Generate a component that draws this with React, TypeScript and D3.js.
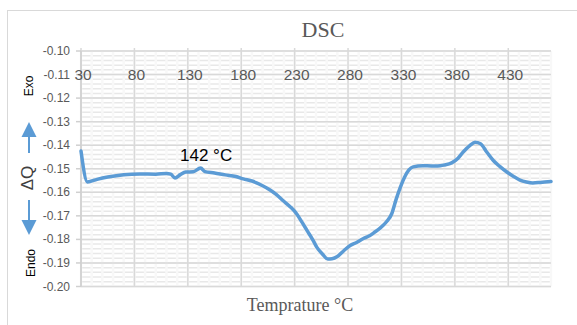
import * as d3 from "d3";

// temperature (°C) and heat flow readings
const temps = [
  30, 36, 45, 55, 70, 85, 100, 110, 114, 118, 123, 128, 135, 142, 146, 155,
  165, 175, 182, 190, 200, 207, 213, 219, 226, 232, 237, 242, 247, 251, 256,
  261, 265, 270, 276, 282, 288, 294, 300, 304, 310, 316, 321, 325, 329, 333,
  337, 341, 350, 358, 364, 370, 377, 383, 388, 394, 399, 404, 410, 416, 422,
  429, 435, 441, 447, 453, 460, 470,
];
const heatFlow = [
  -0.1425, -0.1556, -0.1545, -0.1535, -0.1525, -0.1522, -0.1523, -0.152,
  -0.1523, -0.1539, -0.1525, -0.1514, -0.1513, -0.1497, -0.1512, -0.1518,
  -0.1526, -0.1533, -0.1543, -0.1552, -0.1572, -0.159, -0.161, -0.1635,
  -0.1662, -0.1692, -0.1728, -0.1765, -0.1802, -0.1835, -0.1862, -0.1883,
  -0.1882, -0.1873, -0.1848, -0.1826, -0.1813, -0.1797, -0.1785, -0.1772,
  -0.1752, -0.1725, -0.169, -0.163, -0.1578, -0.1535, -0.1505, -0.1492,
  -0.1487, -0.1488, -0.1488, -0.1484, -0.1475, -0.1455, -0.1428, -0.1402,
  -0.1388, -0.1394, -0.143, -0.1465, -0.149, -0.1515, -0.1533, -0.1548,
  -0.1556, -0.156, -0.1558, -0.1554,
];
const xTicks = [30, 80, 130, 180, 230, 280, 330, 380, 430];
const yTicks = [-0.1, -0.11, -0.12, -0.13, -0.14, -0.15, -0.16, -0.17, -0.18, -0.19, -0.2];
const peakLabel = "142 °C";

const W = 577;
const H = 325;
const sans = "'Liberation Sans', Arial, sans-serif";
const serif = "'Liberation Serif', 'Times New Roman', serif";
const blue = "#5b9bd5";

export default function App() {
  const x = d3.scaleLinear().domain([30, 470]).range([81, 551]);
  const y = d3.scaleLinear().domain([-0.1, -0.2]).range([51, 286.5]);

  const pts = temps.map((t, i) => [t, heatFlow[i]] as [number, number]);
  const line = d3
    .line<[number, number]>()
    .x((d) => x(d[0]))
    .y((d) => y(d[1]))
    .curve(d3.curveMonotoneX);

  const minorX = d3.range(30, 471, 10);
  const minorY = d3.range(0, 51).map((i) => -0.1 - i * 0.002);

  return (
    <div style={{ position: "absolute", left: 0, top: 0 }}>
      <svg width={W} height={H} style={{ display: "block" }}>
        <rect x={0} y={0} width={W} height={H} fill="white" />
        {/* chart frame */}
        <rect x={7.5} y={10.5} width={W} height={H} fill="none" stroke="#d9d9d9" />

        <text x={323} y={37} textAnchor="middle" fontFamily={serif} fontSize={22} fill="#595959">
          DSC
        </text>

        {/* minor grid */}
        {minorY.map((v, i) => (
          <line key={"my" + i} x1={x(30)} x2={x(470)} y1={y(v)} y2={y(v)} stroke="#e8e8e8" strokeWidth={1.5} />
        ))}
        {minorX.map((t) => (
          <line key={"mx" + t} x1={x(t)} x2={x(t)} y1={y(-0.1)} y2={y(-0.2)} stroke="#f8f8f8" strokeWidth={2.5} />
        ))}

        {/* major grid */}
        {yTicks.map((v) => (
          <line key={"gy" + v} x1={x(30)} x2={x(470)} y1={y(v)} y2={y(v)} stroke="#d9d9d9" strokeWidth={1.5} />
        ))}
        {xTicks.map((t) => (
          <line key={"gx" + t} x1={x(t)} x2={x(t)} y1={y(-0.1) - 3} y2={y(-0.2)} stroke="#d9d9d9" strokeWidth={1.5} />
        ))}

        {/* y axis */}
        <line x1={x(30)} x2={x(30)} y1={y(-0.1)} y2={y(-0.2)} stroke="#d0d0d0" strokeWidth={1.5} />
        {yTicks.map((v) => (
          <g key={"yt" + v}>
            <line x1={x(30) - 5} x2={x(30)} y1={y(v)} y2={y(v)} stroke="#d0d0d0" strokeWidth={1.5} />
            <text x={70} y={y(v)} textAnchor="end" dominantBaseline="central" fontFamily={sans} fontSize={12} fill="#595959">
              {v.toFixed(2)}
            </text>
          </g>
        ))}

        {/* x tick labels, drawn below the top axis */}
        {xTicks.map((t) => (
          <text key={"xt" + t} x={x(t) + 2} y={74} textAnchor="middle" dominantBaseline="central" fontFamily={sans} fontSize={15.5} fill="#595959">
            {t}
          </text>
        ))}

        <path d={line(pts) ?? ""} fill="none" stroke={blue} strokeWidth={3.5} strokeLinejoin="round" strokeLinecap="round" />

        <text x={180} y={161} fontFamily={sans} fontSize={17} fill="#000">
          {peakLabel}
        </text>

        {/* y axis title with exo / endo arrows */}
        <text transform="translate(33,86) rotate(-90)" textAnchor="middle" fontFamily={sans} fontSize={12} fill="#000">
          Exo
        </text>
        <text transform="translate(35,263) rotate(-90)" textAnchor="middle" fontFamily={sans} fontSize={12} fill="#000">
          Endo
        </text>
        <text transform="translate(33,178) rotate(-90)" textAnchor="middle" fontFamily={sans} fontSize={17} fill="#404040">
          ΔQ
        </text>
        <line x1={29} x2={29} y1={136} y2={153} stroke={blue} strokeWidth={2} />
        <path d="M21.5,137 L29,122 L36.5,137 Z" fill={blue} />
        <line x1={29} x2={29} y1={200} y2={221} stroke={blue} strokeWidth={2} />
        <path d="M21.5,220 L29,235 L36.5,220 Z" fill={blue} />

        <text x={300} y={311} textAnchor="middle" fontFamily={serif} fontSize={18} fill="#595959">
          Temprature °C
        </text>
      </svg>
    </div>
  );
}
